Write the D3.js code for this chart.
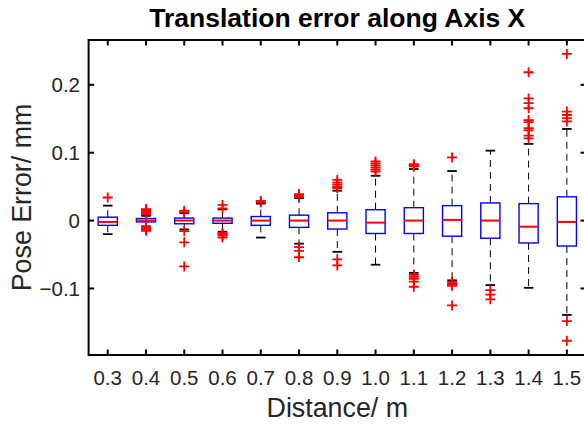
<!DOCTYPE html>
<html>
<head>
<meta charset="utf-8">
<script src="https://cdn.jsdelivr.net/npm/d3@7"></script>
<style>
  body { margin: 0; background: #fff; }
  svg { display: block; font-family: Arial, "Liberation Sans", Helvetica, sans-serif; }
</style>
</head>
<body>
<div id="chart"></div>
<script>
// distances (m)
const categories = ['0.3', '0.4', '0.5', '0.6', '0.7', '0.8', '0.9', '1.0', '1.1', '1.2', '1.3', '1.4', '1.5'];

// box statistics, pose error in mm
const q3 = [0.005, 0.003, 0.0037, 0.0037, 0.006, 0.008, 0.0115, 0.016, 0.019, 0.022, 0.026, 0.025, 0.035];
const medians = [-0.002, 0, 0, 0, 0, 0, 0, -0.003, 0, 0.001, 0, -0.009, -0.002];
const q1 = [-0.007, -0.002, -0.0047, -0.004, -0.007, -0.010, -0.0125, -0.019, -0.019, -0.023, -0.026, -0.033, -0.0375];
const whiskerHigh = [0.022, 0.007, 0.011, 0.0165, 0.025, 0.033, 0.044, 0.066, 0.076, 0.073, 0.103, 0.113, 0.135];
const whiskerLow = [-0.020, -0.0085, -0.013, -0.0165, -0.025, -0.034, -0.046, -0.065, -0.077, -0.088, -0.095, -0.099, -0.139];
const outliers = [
  [0.034],
  [0.017, 0.015, 0.013, 0.011, 0.009, -0.009, -0.011, -0.013, -0.015],
  [0.0145, 0.0125, -0.0155, -0.032, -0.0675],
  [0.023, 0.018, -0.018, -0.020, -0.022, -0.025],
  [0.029, 0.027],
  [0.039, 0.037, 0.035, -0.039, -0.0445, -0.054],
  [0.060, 0.056, 0.053, 0.050, 0.048, -0.057, -0.066],
  [0.087, 0.084, 0.081, 0.078, 0.075, 0.072],
  [0.083, 0.081, 0.080, -0.080, -0.083, -0.086, -0.090, -0.0975],
  [0.093, -0.090, -0.092, -0.094, -0.096, -0.125],
  [-0.1025, -0.109, -0.116],
  [0.2185, 0.180, 0.173, 0.1655, 0.148, 0.145, 0.136, 0.133, 0.125, 0.121],
  [0.2455, 0.1605, 0.1555, 0.151, 0.146, -0.148, -0.177]
];
const yTicks = [-0.1, 0, 0.1, 0.2];

const width = 584, height = 428;
const margin = { top: 40, right: -2, bottom: 73, left: 88.6 };

const svg = d3.select('#chart')
  .append('svg')
  .attr('width', width)
  .attr('height', height);

const x = d3.scaleBand()
  .domain(categories)
  .range([margin.left, width - margin.right])
  .padding(0);

const y = d3.scaleLinear()
  .domain([-0.198, 0.266])
  .range([height - margin.bottom, margin.top]);

const bw = x.bandwidth();
const boxW = bw * 0.5;
const capW = boxW / 2;
const cx = c => x(c) + bw / 2;

const x0 = margin.left, x1 = width - margin.right;
const y0 = height - margin.bottom, y1 = margin.top;

// --- Boxes ---
const g = svg.append('g');
categories.forEach((c, i) => {
  const xc = cx(c);
  // dashed whiskers
  g.append('line')
    .attr('x1', xc).attr('x2', xc)
    .attr('y1', y(q3[i])).attr('y2', y(whiskerHigh[i]))
    .attr('stroke', '#000').attr('stroke-width', 1)
    .attr('stroke-dasharray', '7,5');
  g.append('line')
    .attr('x1', xc).attr('x2', xc)
    .attr('y1', y(q1[i])).attr('y2', y(whiskerLow[i]))
    .attr('stroke', '#000').attr('stroke-width', 1)
    .attr('stroke-dasharray', '7,5');
  // caps
  [whiskerHigh[i], whiskerLow[i]].forEach(v => {
    g.append('line')
      .attr('x1', xc - capW / 2).attr('x2', xc + capW / 2)
      .attr('y1', y(v)).attr('y2', y(v))
      .attr('stroke', '#000').attr('stroke-width', 1.8);
  });
  // box
  g.append('rect')
    .attr('x', xc - boxW / 2)
    .attr('y', y(q3[i]))
    .attr('width', boxW)
    .attr('height', y(q1[i]) - y(q3[i]))
    .attr('fill', 'none')
    .attr('stroke', '#0000ff')
    .attr('stroke-width', 1.4);
  // median
  g.append('line')
    .attr('x1', xc - boxW / 2).attr('x2', xc + boxW / 2)
    .attr('y1', y(medians[i])).attr('y2', y(medians[i]))
    .attr('stroke', '#ff0000').attr('stroke-width', 2);
  // outliers
  g.selectAll(null)
    .data(outliers[i])
    .enter()
    .append('path')
    .attr('d', d => `M${xc - 5},${y(d)}H${xc + 5}M${xc},${y(d) - 5}V${y(d) + 5}`)
    .attr('stroke', '#ff0000')
    .attr('stroke-width', 1.8)
    .attr('fill', 'none');
});

// --- Frame and ticks ---
const tickLen = 5.5;
const frame = svg.append('g').attr('stroke', '#000').attr('stroke-width', 2).attr('fill', 'none');
frame.append('rect')
  .attr('x', x0).attr('y', y1)
  .attr('width', x1 - x0).attr('height', y0 - y1);

categories.forEach(c => {
  frame.append('line').attr('x1', cx(c)).attr('x2', cx(c)).attr('y1', y0).attr('y2', y0 - tickLen);
  frame.append('line').attr('x1', cx(c)).attr('x2', cx(c)).attr('y1', y1).attr('y2', y1 + tickLen);
});
yTicks.forEach(t => {
  frame.append('line').attr('x1', x0).attr('x2', x0 + tickLen).attr('y1', y(t)).attr('y2', y(t));
  frame.append('line').attr('x1', x1).attr('x2', x1 - tickLen).attr('y1', y(t)).attr('y2', y(t));
});

// --- Tick labels ---
svg.append('g')
  .selectAll('text')
  .data(categories)
  .enter()
  .append('text')
  .attr('x', d => cx(d))
  .attr('y', 385)
  .attr('text-anchor', 'middle')
  .attr('font-size', 20.5)
  .attr('fill', '#262626')
  .text(d => d);

svg.append('g')
  .selectAll('text')
  .data(yTicks)
  .enter()
  .append('text')
  .attr('x', 80)
  .attr('y', d => y(d))
  .attr('dy', '0.35em')
  .attr('text-anchor', 'end')
  .attr('font-size', 20.5)
  .attr('fill', '#262626')
  .text(d => d3.format('')(d));

// --- Labels ---
svg.append('text')
  .attr('x', (x0 + x1) / 2)
  .attr('y', 417)
  .attr('text-anchor', 'middle')
  .attr('font-size', 26.8)
  .attr('fill', '#262626')
  .text('Distance/ m');

svg.append('text')
  .attr('transform', `translate(31,${(y0 + y1) / 2}) rotate(-90)`)
  .attr('text-anchor', 'middle')
  .attr('font-size', 26.8)
  .attr('fill', '#262626')
  .text('Pose Error/ mm');

svg.append('text')
  .attr('x', (x0 + x1) / 2)
  .attr('y', 27)
  .attr('text-anchor', 'middle')
  .attr('font-size', 26.5)
  .attr('font-weight', 'bold')
  .attr('fill', '#000')
  .text('Translation error along Axis X');
</script>
</body>
</html>
